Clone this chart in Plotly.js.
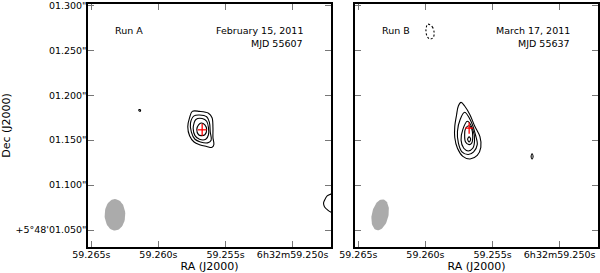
<!DOCTYPE html>
<html>
<head>
<meta charset="utf-8">
<script src="https://cdn.plot.ly/plotly-3.0.1.min.js"></script>
<style>
  html, body { margin: 0; padding: 0; background: white; }
  #chart { width: 600px; height: 273px; }
</style>
</head>
<body>
<div id="chart"></div>
<script>
// axis ticks
var raTicks = [59.265, 59.260, 59.255, 59.250];
var raTickText = ['59.265s', '59.260s', '59.255s', '6h32m59.250s'];
var decTicks = [1.05, 1.10, 1.15, 1.20, 1.25, 1.30];
var decTickText = ["+5°48'01.050\"", '01.100"', '01.150"', '01.200"', '01.250"', '01.300"'];

// reference point (RA seconds, Dec arcsec past +5°48'), offsets below in mas
var refRA = 59.255;
var refDec = 1.150;
var decDeg = 5 + 48 / 60 + 1.15 / 3600;

var runNames = ['Run A', 'Run B'];
var runDates = ['February 15, 2011', 'March 17, 2011'];
var runMJD = ['MJD 55607', 'MJD 55637'];

// fitted positions and errors (mas)
var posE = [26, 26];
var posN = [11.5, 13.4];
var errE = [5, 4.5];
var errN = [6.7, 6.2];

// restoring beam (mas, deg) and where it is drawn
var beamMaj = [35, 35];
var beamMin = [23, 18.5];
var beamPA = [0, -12];
var beamE = [123, 125];
var beamN = [-83, -83];

// Run A contours (east / north offsets, mas)
var runAContE = [
  [37, 29, 19, 15, 14, 14, 13, 15, 21, 29, 35, 40, 42, 40],
  [35, 29, 21, 18, 17, 16, 20, 28, 34, 38, 39],
  [33, 26, 21, 19, 19, 22, 29, 34, 36, 35],
  [27, 23, 21, 23, 27, 30, 32, 30],
  [96, 94.5, 95, 96.5]
];
var runAContN = [
  [32, 32, 30, 25, 14, 3, -5, -8, -7, -5, -2, 5, 15, 25],
  [27, 28, 26, 20, 9, 0, -3, -2, 1, 9, 19],
  [23, 24, 21, 14, 6, 1, 1, 5, 13, 19],
  [19, 17, 12, 6, 5, 6, 12, 17],
  [34, 33.5, 32, 33]
];
// contour cut by the east edge of panel A
var runAEdgeE = [-123, -117, -113, -110, -109, -110, -114, -117, -123];
var runAEdgeN = [-58, -60, -62, -67, -70, -74, -78, -80, -82];

// Run B contours
var runBContE = [
  [35, 31, 25, 20, 14, 13, 17, 25, 33, 39, 42, 42, 40, 38],
  [31, 24, 19, 17, 21, 27, 34, 38, 39, 36],
  [28, 22, 20, 22, 27, 32, 35, 33],
  [26, 23, 22, 23, 26, 30, 31, 30],
  [26, 27.7, 26, 24.3],
  [-44, -42.9, -44, -45.1]
];
var runBContN = [
  [42, 38, 28, 16, 4, -8, -17, -21, -18, -9, 3, 15, 28, 38],
  [31, 21, 6, -5, -13, -16, -13, -3, 10, 23],
  [21, 12, 0, -9, -12, -9, 0, 12],
  [16, 12, 4, -3, -5, -2, 6, 13],
  [3.7, 0.9, -1.9, 0.9],
  [-15.3, -18.1, -20.9, -18.1]
];
// negative contour (dashed)
var runBNegE = [72, 67, 65, 66, 70, 73, 74];
var runBNegN = [129, 126, 120, 114, 112.5, 116, 123];

var secPerMas = 1 / (1000 * 15 * Math.cos(decDeg * Math.PI / 180));
function toRA(e) { return refRA + e * secPerMas; }
function toDec(n) { return refDec + n / 1000; }

function contour(e, n, xa, ya, closed, dash) {
  var ee = closed ? e.concat([e[0]]) : e;
  var nn = closed ? n.concat([n[0]]) : n;
  return {
    x: ee.map(toRA), y: nn.map(toDec), xaxis: xa, yaxis: ya,
    type: 'scatter', mode: 'lines', hoverinfo: 'skip',
    line: {color: 'black', width: 1.1, shape: 'spline', smoothing: 1, dash: dash || 'solid'}
  };
}

function beam(i, xa, ya) {
  var xs = [], ys = [];
  var pa = beamPA[i] * Math.PI / 180;
  var a = beamMaj[i] / 2, b = beamMin[i] / 2;
  for (var k = 0; k <= 60; k++) {
    var t = 2 * Math.PI * k / 60;
    var dn = a * Math.cos(t) * Math.cos(pa) - b * Math.sin(t) * Math.sin(pa);
    var de = a * Math.cos(t) * Math.sin(pa) + b * Math.sin(t) * Math.cos(pa);
    xs.push(toRA(beamE[i] + de));
    ys.push(toDec(beamN[i] + dn));
  }
  return {x: xs, y: ys, xaxis: xa, yaxis: ya, type: 'scatter', mode: 'lines',
    fill: 'toself', fillcolor: '#ababab', line: {width: 0, color: '#ababab'}, hoverinfo: 'skip'};
}

function position(i, xa, ya) {
  return {
    x: [toRA(posE[i])], y: [toDec(posN[i])], xaxis: xa, yaxis: ya,
    type: 'scatter', mode: 'markers', marker: {size: 1, color: 'red'},
    error_x: {type: 'data', array: [errE[i] * secPerMas], color: 'red', thickness: 1.3, width: 0},
    error_y: {type: 'data', array: [errN[i] / 1000], color: 'red', thickness: 1.3, width: 0},
    hoverinfo: 'skip'
  };
}

var data = [beam(0, 'x', 'y'), beam(1, 'x2', 'y2')];
runAContE.forEach(function(e, i) { data.push(contour(e, runAContN[i], 'x', 'y', true)); });
data.push(contour(runAEdgeE, runAEdgeN, 'x', 'y', false));
runBContE.forEach(function(e, i) { data.push(contour(e, runBContN[i], 'x2', 'y2', true)); });
data.push(contour(runBNegE, runBNegN, 'x2', 'y2', true, '2px,2px'));
data.push(position(0, 'x', 'y'));
data.push(position(1, 'x2', 'y2'));

var raRange = [59.26525, 59.24714];
var decRange = [1.0312, 1.3014];

function xAxis(dom, anchor) {
  return {
    domain: dom, anchor: anchor, range: raRange,
    tickmode: 'array', tickvals: raTicks, ticktext: raTickText,
    ticks: 'inside', ticklen: 6, tickcolor: '#777', tickwidth: 1,
    ticklabelstandoff: -2, ticklabeloverflow: 'allow',
    showline: true, linecolor: 'black', linewidth: 1.6, mirror: 'allticks',
    showgrid: false, zeroline: false,
    title: {text: 'RA (J2000)', standoff: 4}
  };
}
function yAxis(anchor, labels) {
  return {
    domain: [0, 1], anchor: anchor, range: decRange,
    tickmode: 'array', tickvals: decTicks, ticktext: decTickText,
    showticklabels: labels,
    ticks: 'inside', ticklen: 6, tickcolor: '#777', tickwidth: 1,
    ticklabelstandoff: -2, ticklabeloverflow: 'allow',
    showline: true, linecolor: 'black', linewidth: 1.6, mirror: 'allticks',
    showgrid: false, zeroline: false,
    title: {text: labels ? 'Dec (J2000)' : '', standoff: 5}
  };
}

var annotations = [];
[['x', 'y'], ['x2', 'y2']].forEach(function(r, i) {
  annotations.push({xref: r[0] + ' domain', yref: r[1] + ' domain', x: 0.103, y: 0.893,
    text: runNames[i], showarrow: false, xanchor: 'left', yanchor: 'middle'});
  annotations.push({xref: r[0] + ' domain', yref: r[1] + ' domain', x: 0.895, y: 0.893,
    text: runDates[i], showarrow: false, xanchor: 'right', yanchor: 'middle'});
  annotations.push({xref: r[0] + ' domain', yref: r[1] + ' domain', x: 0.895, y: 0.838,
    text: runMJD[i], showarrow: false, xanchor: 'right', yanchor: 'middle'});
});

var layout = {
  width: 600, height: 273,
  margin: {l: 88, r: 2, t: 4, b: 26},
  paper_bgcolor: 'white', plot_bgcolor: 'white',
  font: {family: 'DejaVu Sans, sans-serif', size: 9.5, color: 'black'},
  showlegend: false,
  xaxis: xAxis([0, 0.4765], 'y'),
  yaxis: yAxis('x', true),
  xaxis2: xAxis([0.5235, 1], 'y2'),
  yaxis2: yAxis('x2', false),
  annotations: annotations
};

Plotly.newPlot('chart', data, layout, {displayModeBar: false, staticPlot: true});
</script>
</body>
</html>
